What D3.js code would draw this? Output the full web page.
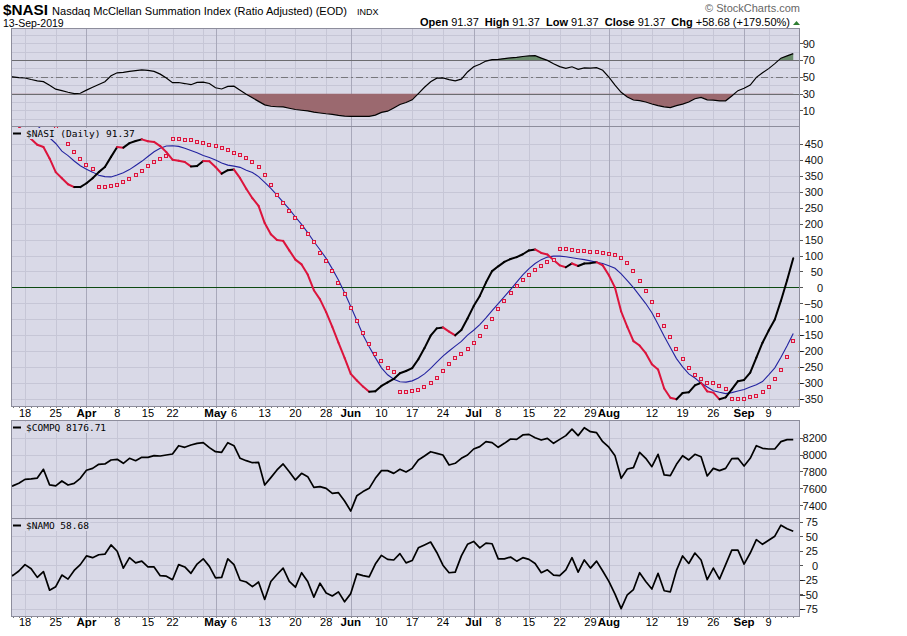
<!DOCTYPE html>
<meta charset="utf-8">
<script src="https://d3js.org/d3.v7.min.js"></script>
<style>
body { margin:0; background:#fff; }
svg { display:block; font-family:"Liberation Sans", Arial, sans-serif; }
.hgrid line, .vgrid line { stroke:#c6c6d6; stroke-width:1px; shape-rendering:crispEdges; }
.vgrid line.month { stroke:#a8a8ba; }
.axis text { font-size:11px; fill:#111; }
.axis line { stroke:#555; shape-rendering:crispEdges; }
.axis path { display:none; }
.legend { font-family:"DejaVu Sans Mono", monospace; font-size:9.5px; }
</style>
<body></body>
<script>

// trading calendar 13-Mar-2019 .. 13-Sep-2019
var holidays = ['2019-04-19', '2019-05-27', '2019-07-04', '2019-09-02'];

// x labels under the price panels
var xTicks = [
  ['2019-03-18','18'],['2019-03-25','25'],['2019-04-01','Apr'],['2019-04-08','8'],['2019-04-15','15'],
  ['2019-04-22','22'],['2019-05-01','May'],['2019-05-06','6'],['2019-05-13','13'],['2019-05-20','20'],
  ['2019-05-28','28'],['2019-06-03','Jun'],['2019-06-10','10'],['2019-06-17','17'],['2019-06-24','24'],
  ['2019-07-01','Jul'],['2019-07-08','8'],['2019-07-15','15'],['2019-07-22','22'],['2019-07-29','29'],
  ['2019-08-01','Aug'],['2019-08-12','12'],['2019-08-19','19'],['2019-08-26','26'],['2019-09-03','Sep'],
  ['2019-09-09','9']
];

var rsiTicks = [10, 30, 50, 70, 90];
var nasiTicks = [-350,-300,-250,-200,-150,-100,-50,0,50,100,150,200,250,300,350,400,450];
var compqTicks = [7400, 7600, 7800, 8000, 8200];
var namoTicks = [-75,-50,-25,0,25,50,75];

// RSI(14) of $NASI
var rsi = [50.5,50.0,49.0,48.6,46.8,45.2,44.2,40.0,35.3,33.5,31.6,30.0,30.4,34.1,37.5,40.8,44.2,51.2,54.8,55.4,
  56.5,57.5,58.3,57.8,56.5,53.2,48.5,43.0,43.2,42.0,40.6,43.4,43.6,42.0,37.0,35.5,38.5,38.8,34.1,29.3,
  24.9,20.7,16.5,14.9,14.3,14.1,12.5,11.0,10.1,9.3,7.8,6.8,5.9,5.2,4.0,3.1,2.9,2.8,2.8,2.8,
  4.3,7.5,9.0,12.9,17.0,19.4,22.5,30.0,37.5,44.2,48.4,48.8,46.6,45.1,47.2,55.8,62.0,65.0,68.8,70.5,
  70.9,71.8,72.6,73.3,74.3,75.0,75.3,72.4,69.6,65.6,62.2,60.2,62.0,58.9,60.7,60.3,60.9,57.8,49.7,40.0,
  31.5,26.0,22.3,21.5,20.0,17.6,15.6,14.2,13.2,15.7,17.4,19.9,23.8,25.5,22.6,22.3,21.2,21.4,27.1,33.5,
  36.3,40.2,49.4,54.8,59.8,65.8,72.3,75.0,77.7];

// $NASI daily
var nasi = [555,530,505,482,466,448,441,405,362,343,324,315,315,327,343,362,378,410,441,439,
  453,460,465,459,457,444,425,401,398,394,380,381,397,396,378,357,368,370,343,310,
  280,256,202,167,149,146,116,87,72,40,-9,-38,-78,-124,-174,-222,-272,-293,-312,-328,
  -327,-310,-299,-288,-270,-263,-254,-226,-191,-152,-129,-126,-139,-151,-134,-98,-59,-27,15,51,
  66,80,89,95,104,116,119,108,103,86,69,63,75,67,75,76,79,69,38,-1,
  -76,-124,-169,-183,-207,-242,-258,-318,-347,-352,-332,-330,-308,-300,-327,-331,-352,-346,-321,-295,
  -291,-268,-221,-174,-136,-101,-42,22,91.37];

// moving average of $NASI (blue)
var nasiMA = [585,570,555,540,525,508,490,470,452,428,414,397,382,371,362,352,348,347,353,360,
  370,383,396,411,426,437,444,445,443,437,430,423,414,408,400,391,384,381,377,368,
  361,348,330,311,290,268,246,221,198,172,144,118,91,58,23,-17,-60,-104,-150,-187,
  -221,-253,-275,-289,-297,-298,-294,-285,-272,-255,-235,-216,-200,-185,-170,-150,-135,-117,-96,-73,
  -51,-29,-7,16,39,59,75,87,95,98,98,96,93,90,87,83,79,75,68,60,
  42,21,-1,-26,-51,-80,-116,-154,-189,-224,-250,-272,-285,-301,-313,-325,-330,-334,-331,-326,
  -321,-313,-306,-296,-275,-253,-220,-184,-145];

// parabolic SAR dots
var sar = [null,null,null,null,null,null,null,null,503,null,450,425,402,383,371,314,314,318,323,332,
  342,352,365,380,393,402,412,465,465,462,462,456,453,446,443,437,431,421,415,406,
  393,377,352,321,289,264,239,217,189,167,141,109,82,50,13,-22,-66,-107,-145,-179,
  -211,-233,-255,-267,-330,-330,-327,-324,-314,-302,-286,-264,-242,-223,-208,-195,-176,-154,-126,-101,
  -69,-44,-19,4,22,38,53,66,79,85,119,119,116,113,113,110,110,107,104,101,
  91,75,50,19,-13,-47,-88,-123,-157,-195,-226,-252,-274,-289,-302,-302,-311,-321,-352,-352,
  -352,-346,-340,-330,-314,-289,-261,-220,-170];

// Nasdaq Composite
var compq = [7615,7630,7660,7707,7712,7722,7826,7642,7630,7688,7640,7660,7719,7815,7837,7885,7889,7936,7944,7897,
  7956,7928,7967,7967,7987,7983,7995,8007,8105,8086,8113,8133,8141,8082,8034,8027,8141,8105,7956,7928,
  7904,7908,7640,7727,7818,7889,7798,7700,7778,7739,7613,7621,7601,7542,7550,7451,7333,7514,7562,7601,
  7719,7810,7810,7778,7826,7794,7837,7936,7983,8034,8015,7995,7877,7897,7956,7995,8066,8094,8153,8141,
  8086,8133,8184,8180,8232,8239,8200,8172,8192,8133,8180,8224,8302,8224,8318,8271,8259,8153,8087,7985,
  7719,7830,7845,8027,7956,7857,8003,7759,7751,7885,7987,7936,8003,7975,7747,7837,7810,7837,7952,7956,
  7865,7956,8105,8074,8066,8066,8153,8177,8176.71];

// McClellan Oscillator
var namo = [-14,-18,-10,1,-6,-21,-11,-43,-37,-17,-24,-9,1,16,13,18,19,35,24,-5,
  13,4,7,-3,-3,-18,-19,-25,1,-3,-14,2,11,-2,-22,-21,11,1,-26,-29,
  -37,-29,-59,-28,-16,-5,-28,-38,-13,-28,-55,-31,-48,-53,-46,-63,-49,-15,-18,-20,
  2,17,10,9,20,4,8,30,35,40,22,0,-13,-12,16,36,41,30,38,37,
  11,11,14,7,13,10,3,-13,-8,-17,-18,-8,13,-12,9,-5,7,-10,-28,-50,
  -75,-51,-42,-13,-28,-41,-14,-44,-46,-9,16,3,21,9,-25,-5,-24,1,26,26,
  2,21,44,36,43,50,69,63,58.68];

var fmt = d3.timeFormat('%Y-%m-%d');
var days = d3.timeDay.range(new Date(2019, 2, 13), new Date(2019, 8, 14))
  .filter(d => d.getDay() > 0 && d.getDay() < 6 && holidays.indexOf(fmt(d)) < 0);
var dayIndex = {};
days.forEach((d, i) => dayIndex[fmt(d)] = i);

var W = 907, H = 636;
var left = 11, right = 800;

var svg = d3.select('body').append('svg')
  .attr('width', W).attr('height', H);

// index scale: one slot per trading day
var x = d3.scaleLinear().domain([3, 128]).range([25, 793.25]);

var panels = {
  rsi:   {top: 28,  bottom: 126, domain: [-8.7, 108.3], grid: d3.range(0, 101, 10), ticks: rsiTicks, alignX: 815},
  nasi:  {top: 126, bottom: 406, domain: [-373, 507],   grid: nasiTicks,            ticks: nasiTicks, alignX: 823},
  compq: {top: 420, bottom: 518, domain: [7250, 8409],  grid: compqTicks,           ticks: compqTicks, alignX: 827},
  namo:  {top: 518, bottom: 616, domain: [-87.6, 81.4], grid: namoTicks,            ticks: namoTicks, alignX: 818}
};

var weekStarts = [], monthStarts = [];
days.forEach(function(d, i) {
  if (i == 0) return;
  var p = days[i - 1];
  if (d.getMonth() != p.getMonth()) monthStarts.push(i);
  if (d.getDay() < p.getDay() || (d - p) > 3 * 864e5) weekStarts.push(i);
});

var bg = '#d9d9e7';
var defs = svg.append('defs');

Object.keys(panels).forEach(function(key) {
  var p = panels[key];
  p.y = d3.scaleLinear().domain(p.domain).range([p.bottom, p.top]);

  defs.append('clipPath').attr('id', 'clip-' + key)
    .append('rect').attr('x', left).attr('y', p.top)
    .attr('width', right - left).attr('height', p.bottom - p.top);

  svg.append('rect')
    .attr('x', left).attr('y', p.top)
    .attr('width', right - left).attr('height', p.bottom - p.top)
    .attr('fill', bg);

  p.g = svg.append('g').attr('clip-path', 'url(#clip-' + key + ')');

  p.g.append('g').attr('class', 'hgrid')
    .selectAll('line').data(p.grid).enter().append('line')
    .attr('x1', left).attr('x2', right)
    .attr('y1', d => Math.round(p.y(d)) + 0.5).attr('y2', d => Math.round(p.y(d)) + 0.5);

  var vg = p.g.append('g').attr('class', 'vgrid');
  vg.selectAll('line.week').data(weekStarts).enter().append('line')
    .attr('class', 'week')
    .attr('x1', d => Math.round(x(d)) + 0.5).attr('x2', d => Math.round(x(d)) + 0.5)
    .attr('y1', p.top).attr('y2', p.bottom);
  vg.selectAll('line.month').data(monthStarts).enter().append('line')
    .attr('class', 'month')
    .attr('x1', d => Math.round(x(d)) + 0.5).attr('x2', d => Math.round(x(d)) + 0.5)
    .attr('y1', p.top).attr('y2', p.bottom);

  // right axis
  var ax = svg.append('g').attr('class', 'axis')
    .attr('transform', 'translate(' + right + ',0)')
    .call(d3.axisRight(p.y).tickValues(p.ticks).tickSize(3).tickFormat(d3.format('d')));
  ax.selectAll('text').attr('text-anchor', 'end').attr('x', p.alignX - right).attr('dy', '0.35em');
});

// ---- RSI panel
var pr = panels.rsi;
[30, 70].forEach(function(v) {
  pr.g.append('line').attr('x1', left).attr('x2', right)
    .attr('y1', Math.round(pr.y(v)) + 0.5).attr('y2', Math.round(pr.y(v)) + 0.5)
    .attr('stroke', '#6c6c70').attr('stroke-width', 1);
});
pr.g.append('line').attr('x1', left).attr('x2', right)
  .attr('y1', Math.round(pr.y(50)) + 0.5).attr('y2', Math.round(pr.y(50)) + 0.5)
  .attr('stroke', '#77777c').attr('stroke-dasharray', '7,3,2,3');

defs.append('clipPath').attr('id', 'rsi-hi').append('rect')
  .attr('x', left).attr('y', pr.top).attr('width', right - left).attr('height', pr.y(70) - pr.top);
defs.append('clipPath').attr('id', 'rsi-lo').append('rect')
  .attr('x', left).attr('y', pr.y(30)).attr('width', right - left).attr('height', pr.bottom - pr.y(30));

pr.g.append('g').attr('clip-path', 'url(#rsi-hi)').append('path')
  .datum(rsi)
  .attr('fill', '#6a8c6c')
  .attr('d', d3.area().x((d, i) => x(i)).y0(pr.y(70)).y1(d => pr.y(d)));
pr.g.append('g').attr('clip-path', 'url(#rsi-lo)').append('path')
  .datum(rsi)
  .attr('fill', '#9b696f')
  .attr('d', d3.area().x((d, i) => x(i)).y0(pr.y(30)).y1(d => pr.y(d)));
pr.g.append('path').datum(rsi)
  .attr('fill', 'none').attr('stroke', '#000').attr('stroke-width', 1.2)
  .attr('d', d3.line().x((d, i) => x(i)).y(d => pr.y(d)));

// ---- NASI panel
var pn = panels.nasi;
pn.g.append('line').attr('x1', left).attr('x2', right)
  .attr('y1', Math.round(pn.y(0)) + 0.5).attr('y2', Math.round(pn.y(0)) + 0.5)
  .attr('stroke', '#0d4a12').attr('stroke-width', 1);

pn.g.append('path').datum(nasiMA)
  .attr('fill', 'none').attr('stroke', '#2424a0').attr('stroke-width', 1.1)
  .attr('d', d3.line().x((d, i) => x(i)).y(d => pn.y(d)));

// NASI line: black on up days, red on down days
var segs = d3.range(1, nasi.length).map(i => ({i: i, up: nasi[i] >= nasi[i - 1]}));
pn.g.append('g').selectAll('line').data(segs).enter().append('line')
  .attr('x1', d => x(d.i - 1)).attr('y1', d => pn.y(nasi[d.i - 1]))
  .attr('x2', d => x(d.i)).attr('y2', d => pn.y(nasi[d.i]))
  .attr('stroke', d => d.up ? '#000' : '#dc143c')
  .attr('stroke-width', 2).attr('stroke-linecap', 'round');

pn.g.append('g').selectAll('rect')
  .data(sar.map((v, i) => ({i: i, v: v})).filter(d => d.v != null))
  .enter().append('rect')
  .attr('x', d => Math.round(x(d.i)) - 1.5).attr('y', d => Math.round(pn.y(d.v)) - 1.5)
  .attr('width', 3).attr('height', 3)
  .attr('fill', '#eec6d4').attr('stroke', '#dc143c').attr('stroke-width', 1);

// ---- COMPQ / NAMO panels
[['compq', compq], ['namo', namo]].forEach(function(s) {
  var p = panels[s[0]];
  p.g.append('path').datum(s[1])
    .attr('fill', 'none').attr('stroke', '#000').attr('stroke-width', 1.7)
    .attr('stroke-linejoin', 'round')
    .attr('d', d3.line().x((d, i) => x(i)).y(d => p.y(d)));
});

// panel borders
Object.keys(panels).forEach(function(key) {
  var p = panels[key];
  svg.append('rect')
    .attr('x', left + 0.5).attr('y', p.top + 0.5)
    .attr('width', right - left - 1).attr('height', p.bottom - p.top)
    .attr('fill', 'none').attr('stroke', '#8d8d9c').attr('stroke-width', 1)
    .style('shape-rendering', 'crispEdges');
});

// legends
function legend(p, label, y) {
  var g = svg.append('g');
  var t = g.append('text').attr('class', 'legend').attr('x', 26).attr('y', y).text(label);
  var bb = t.node().getBBox();
  g.insert('rect', 'text').attr('x', 12).attr('y', bb.y)
    .attr('width', bb.x + bb.width - 12 + 1).attr('height', bb.height).attr('fill', bg);
  g.append('line').attr('x1', 13).attr('x2', 21).attr('y1', y - 3.5).attr('y2', y - 3.5)
    .attr('stroke', '#000').attr('stroke-width', 2);
}
legend(pn, '$NASI (Daily) 91.37', 137);
legend(panels.compq, '$COMPQ 8176.71', 431);
legend(panels.namo, '$NAMO 58.68', 529);

// x axis labels (two bands) and daily tick dots
[[406, 417], [616, 626]].forEach(function(b) {
  svg.append('g').selectAll('rect').data(days).enter().append('rect')
    .attr('x', (d, i) => Math.round(x(i))).attr('y', b[0] + 1)
    .attr('width', 1).attr('height', 1).attr('fill', '#777')
    .filter((d, i) => x(i) < left || x(i) > right).remove();
  svg.append('g').selectAll('text').data(xTicks).enter().append('text')
    .attr('x', d => x(dayIndex[d[0]]))
    .attr('y', b[1])
    .attr('text-anchor', 'middle')
    .style('font-size', d => isNaN(+d[1]) ? '11.5px' : '11px')
    .style('font-weight', d => isNaN(+d[1]) ? 'bold' : 'normal')
    .text(d => d[1]);
});

// header
svg.append('text').attr('x', 3).attr('y', 15)
  .attr('textLength', 45).attr('lengthAdjust', 'spacingAndGlyphs')
  .style('font-size', '14px').style('font-weight', 'bold').text('$NASI');
svg.append('text').attr('x', 52).attr('y', 14.5)
  .attr('textLength', 295).attr('lengthAdjust', 'spacingAndGlyphs')
  .style('font-size', '11px').text('Nasdaq McClellan Summation Index (Ratio Adjusted) (EOD)');
svg.append('text').attr('x', 357).attr('y', 14.5)
  .style('font-size', '9px').text('INDX');
svg.append('text').attr('x', 3).attr('y', 27)
  .style('font-size', '10.5px').text('13-Sep-2019');
svg.append('text').attr('x', 800).attr('y', 12).attr('text-anchor', 'end')
  .style('font-size', '11px').attr('fill', '#666').text('\u00A9 StockCharts.com');

var quote = [['Open', '91.37'], ['High', '91.37'], ['Low', '91.37'], ['Close', '91.37'], ['Chg', '+58.68 (+179.50%)']];
var qt = svg.append('text').attr('x', 790).attr('y', 26).attr('text-anchor', 'end')
  .style('font-size', '11px');
quote.forEach(function(q, i) {
  qt.append('tspan').style('font-weight', 'bold').text((i ? '\u00A0\u00A0' : '') + q[0] + '\u00A0');
  qt.append('tspan').text(q[1]);
});
svg.append('path').attr('d', 'M793,25 L800,25 L796.5,21 Z').attr('fill', '#2e7d32');

</script>
